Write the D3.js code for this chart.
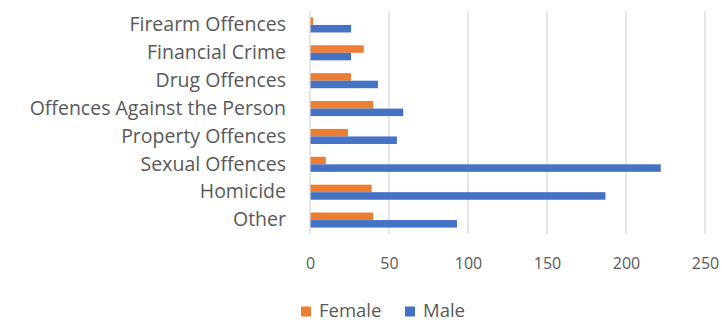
<!DOCTYPE html>
<html>
<head>
<meta charset="utf-8">
<script src="https://cdn.jsdelivr.net/npm/d3@7"></script>
<style>
html,body{margin:0;padding:0;background:#fff;}
svg{display:block;}
text{font-family:"Open Sans",sans-serif;fill:#595959;}
</style>
</head>
<body>
<svg id="chart" width="722" height="322"></svg>
<script>
const categories = ["Firearm Offences","Financial Crime","Drug Offences","Offences Against the Person","Property Offences","Sexual Offences","Homicide","Other"];
const female = [2, 34, 26, 40, 24, 10, 39, 40];
const male = [26, 26, 43, 59, 55, 222, 187, 93];
const seriesNames = ["Female","Male"];
const xTicks = [0, 50, 100, 150, 200, 250];

const colors = {Female:"#ED7D31", Male:"#4472C4"};
const svg = d3.select("#chart");
const pLeft = 310, pRight = 705, pTop = 11, pBottom = 234;

const x = d3.scaleLinear().domain([0, 250]).range([pLeft, pRight]);
const y = d3.scaleBand().domain(categories).range([pTop, pBottom]).paddingInner(0.46).paddingOuter(0.23);
const sub = d3.scaleBand().domain(seriesNames).range([0, y.bandwidth()]);

// gridlines
svg.append("g").selectAll("line").data(xTicks.filter(d => d > 0)).join("line")
  .attr("x1", d => x(d)).attr("x2", d => x(d))
  .attr("y1", pTop).attr("y2", pBottom)
  .attr("stroke", "#d9d9d9").attr("stroke-width", 1.3);

const data = categories.map((c, i) => ({cat: c, Female: female[i], Male: male[i]}));

const g = svg.append("g");
seriesNames.forEach(s => {
  g.selectAll(null).data(data).join("rect")
    .attr("x", x(0))
    .attr("y", d => y(d.cat) + sub(s))
    .attr("width", d => x(d[s]) - x(0))
    .attr("height", sub.bandwidth())
    .attr("fill", colors[s]);
});

// axis line
svg.append("line").attr("x1", x(0)).attr("x2", x(0)).attr("y1", pTop).attr("y2", pBottom)
  .attr("stroke", "#d9d9d9").attr("stroke-width", 1.3);

// x tick labels
const xAxis = d3.axisBottom(x).tickValues(xTicks).tickSize(0).tickPadding(0);
const xa = svg.append("g").attr("transform", `translate(0,${258})`).call(xAxis);
xa.select(".domain").remove();
xa.selectAll("text").attr("font-size", 16).style("font-family", "'Open Sans',sans-serif").attr("fill", "#595959").attr("dy", "0.71em");

// y category labels
const yAxis = d3.axisLeft(y).tickSize(0).tickPadding(0);
const ya = svg.append("g").attr("transform", `translate(${286},0)`).call(yAxis);
ya.select(".domain").remove();
ya.selectAll("text").attr("font-size", 19.5).style("font-family", "'Open Sans',sans-serif").attr("fill", "#595959");

// legend
const legend = svg.append("g");
const legendItems = [{name:"Female", x:301}, {name:"Male", x:405}];
legendItems.forEach(it => {
  legend.append("rect").attr("x", it.x).attr("y", 306.5).attr("width", 10).attr("height", 10).attr("fill", colors[it.name]);
  legend.append("text").attr("x", it.x + 18).attr("y", 316.5).attr("font-size", 18.5).text(it.name);
});
</script>
</body>
</html>
